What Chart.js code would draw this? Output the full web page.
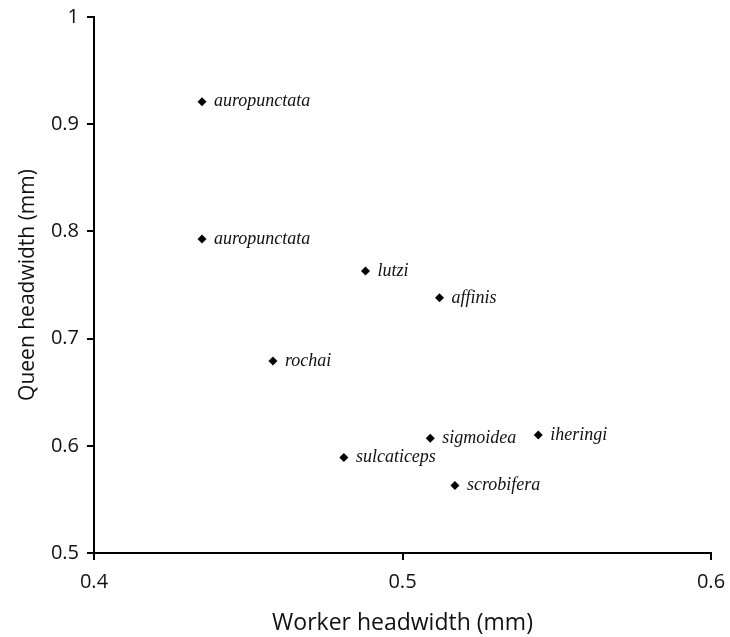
<!DOCTYPE html>
<html>
<head>
<meta charset="utf-8">
<script src="https://cdn.jsdelivr.net/npm/chart.js@4"></script>
<style>
  html, body { margin: 0; padding: 0; background: #fff; }
  #wrap { width: 730px; height: 637px; }
</style>
</head>
<body>
<div id="wrap"><canvas id="chart" width="730" height="637"></canvas></div>
<script>
// species names and measured head widths (mm)
const species = ['auropunctata', 'auropunctata', 'lutzi', 'affinis', 'rochai', 'sigmoidea', 'iheringi', 'sulcaticeps', 'scrobifera'];
const workerWidth = [0.435, 0.435, 0.488, 0.512, 0.458, 0.509, 0.544, 0.481, 0.517];
const queenWidth = [0.921, 0.793, 0.763, 0.738, 0.679, 0.607, 0.610, 0.589, 0.563];

const xTicks = [0.4, 0.5, 0.6];
const yTicks = [0.5, 0.6, 0.7, 0.8, 0.9, 1];

const points = workerWidth.map((w, i) => ({ x: w, y: queenWidth[i] }));

// writes the species name next to each point
const speciesLabels = {
    id: 'speciesLabels',
    afterDatasetsDraw(chart) {
        const ctx = chart.ctx;
        const xs = chart.scales.x;
        const ys = chart.scales.y;
        ctx.save();
        ctx.fillStyle = '#111';
        ctx.font = 'italic 18px "Liberation Serif", serif';
        ctx.textAlign = 'left';
        ctx.textBaseline = 'middle';
        points.forEach((p, i) => {
            ctx.fillText(species[i], xs.getPixelForValue(p.x) + 12, ys.getPixelForValue(p.y));
        });
        ctx.restore();
    }
};

const tickFont = { family: '"Open Sans", sans-serif', size: 20 };

new Chart(document.getElementById('chart'), {
    type: 'scatter',
    data: {
        datasets: [{
            data: points,
            pointStyle: 'rectRot',
            pointRadius: 4.5,
            pointHoverRadius: 4.5,
            backgroundColor: '#000',
            borderColor: '#000',
            borderWidth: 0
        }]
    },
    options: {
        responsive: false,
        animation: false,
        layout: { padding: { top: 17, right: 19, left: 0, bottom: 0 } },
        plugins: { legend: { display: false }, tooltip: { enabled: false } },
        scales: {
            x: {
                type: 'linear',
                min: 0.4,
                max: 0.6,
                afterBuildTicks: s => { s.ticks = xTicks.map(v => ({ value: v })); },
                afterFit: s => { s.height = 84; s.paddingLeft = 0; s.paddingRight = 0; },
                grid: { drawOnChartArea: false, drawTicks: true, tickLength: 7, color: '#000', lineWidth: 2 },
                border: { color: '#000', width: 2 },
                ticks: { color: '#111', font: tickFont, padding: 10, maxRotation: 0, callback: v => String(v) },
                title: { display: true, text: 'Worker headwidth (mm)', color: '#111', font: { family: '"Open Sans", sans-serif', size: 23 }, padding: { top: -2, bottom: 0 } }
            },
            y: {
                type: 'linear',
                min: 0.5,
                max: 1,
                afterBuildTicks: s => { s.ticks = yTicks.map(v => ({ value: v })); },
                afterFit: s => { s.width = 94; s.paddingTop = 0; s.paddingBottom = 0; },
                grid: { drawOnChartArea: false, drawTicks: true, tickLength: 7, color: '#000', lineWidth: 2 },
                border: { color: '#000', width: 2 },
                ticks: { color: '#111', font: tickFont, padding: 8, callback: v => String(v) },
                title: { display: true, text: 'Queen headwidth (mm)', color: '#111', font: { family: '"Open Sans", sans-serif', size: 21 }, padding: { top: 15, bottom: 0 } }
            }
        }
    },
    plugins: [speciesLabels]
});
</script>
</body>
</html>
